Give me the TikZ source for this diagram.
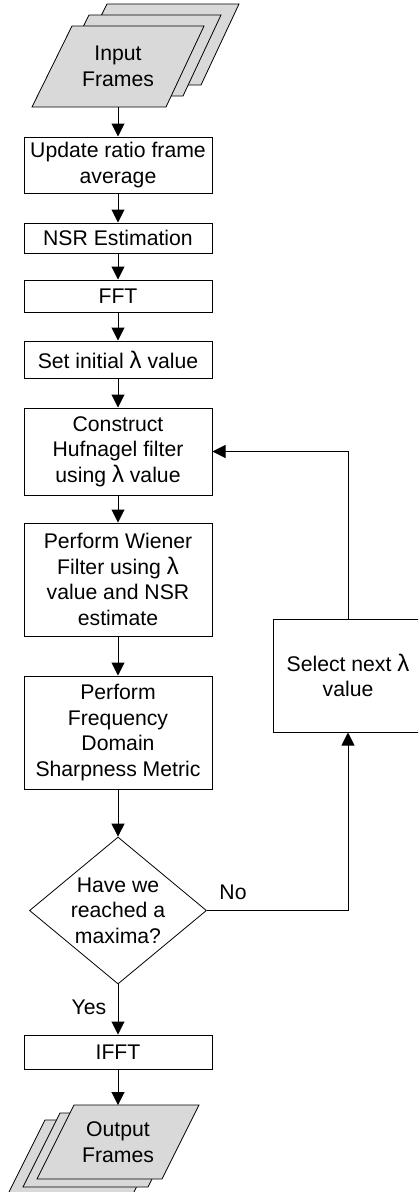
\documentclass[tikz,border=0pt]{standalone}
\usepackage{fontspec}
\setmainfont{Liberation Sans}
\usetikzlibrary{arrows.meta,shapes.geometric}
\definecolor{framegray}{RGB}{217,217,217}
% slightly enlarged lambda glyph
\newcommand{\lam}{{\fontsize{24pt}{25.5pt}\selectfont λ}}

\begin{document}
\begin{tikzpicture}[x=1pt,y=-1pt,
  every node/.style={font=\fontsize{21.2pt}{25.5pt}\selectfont, text=black},
  proc/.style={draw, line width=1pt, minimum width=188pt, inner sep=0pt, align=center},
  flow/.style={draw, line width=1pt, -{Triangle[length=13pt,width=13pt]}},
  framesheet/.style={draw, line width=0.8pt, fill=framegray},
  lbl/.style={inner sep=0pt, align=center}
]
\useasboundingbox (0,0) rectangle (418,1192);
\clip (0,0) rectangle (418,1192);

% input frame stack, back sheet first
\foreach \dx/\dy in {35/-22, 17/-11, 0/0} {
  \draw[framesheet, shift={(\dx,\dy)}] (72,26) -- (204,26) -- (166,107) -- (32,107) -- cycle;
}
\node[lbl] (in) at (118,66.5) {Input\\Frames};
\coordinate (inB) at (118,107);

% processing chain
\node[proc, minimum height=56pt]  (upd)  at (118,165)   {Update ratio frame\\average};
\node[proc, minimum height=30pt]  (nsr)  at (118,238)   {NSR Estimation};
\node[proc, minimum height=32pt]  (fft)  at (118,296)   {FFT};
\node[proc, minimum height=37pt]  (init) at (118,359.5) {Set initial \lam{} value};
\node[proc, minimum height=87pt]  (con)  at (118,451.5) {Construct\\Hufnagel filter\\using \lam{} value};
\node[proc, minimum height=113pt] (wie)  at (118,579.5) {Perform Wiener\\Filter using \lam\\value and NSR\\estimate};
\node[proc, minimum height=113pt] (frq)  at (118,732.5) {Perform\\Frequency\\Domain\\Sharpness Metric};

% decision
\node[diamond, draw, line width=0.8pt, minimum width=177pt, minimum height=147pt, inner sep=0pt] (dec) at (118,910.5) {};
\node[lbl] (dect) at (118,910.5) {Have we\\reached a\\maxima?};

\node[proc, minimum height=34pt] (ifft) at (118,1052) {IFFT};

% loop-back step
\node[proc, minimum width=150pt, minimum height=113pt] (sel) at (348,675.5) {Select next \lam\\value};

% output frame stack, back sheet first
\foreach \dx/\dy in {-29/15, -14/8, 0/0} {
  \draw[framesheet, shift={(\dx,\dy)}] (74,1105) -- (199,1105) -- (162,1179) -- (37,1179) -- cycle;
}
\node[lbl] (out) at (118,1142) {Output\\Frames};
\coordinate (outT) at (118,1105);

% connectors
\draw[flow] (inB) -- (upd);
\draw[flow] (upd) -- (nsr);
\draw[flow] (nsr) -- (fft);
\draw[flow] (fft) -- (init);
\draw[flow] (init) -- (con);
\draw[flow] (con) -- (wie);
\draw[flow] (wie) -- (frq);
\draw[flow] (frq) -- (dec);
\draw[flow] (dec) -- (ifft);
\draw[flow] (ifft) -- (outT);
\draw[flow] (dec.east) -| (sel.south);
\draw[flow] (sel.north) |- (con.east);

% branch labels
\node[lbl, anchor=base] (no)  at (233,899)  {No};
\node[lbl, anchor=base] (yes) at (89,1014) {Yes};
\end{tikzpicture}
\end{document}
